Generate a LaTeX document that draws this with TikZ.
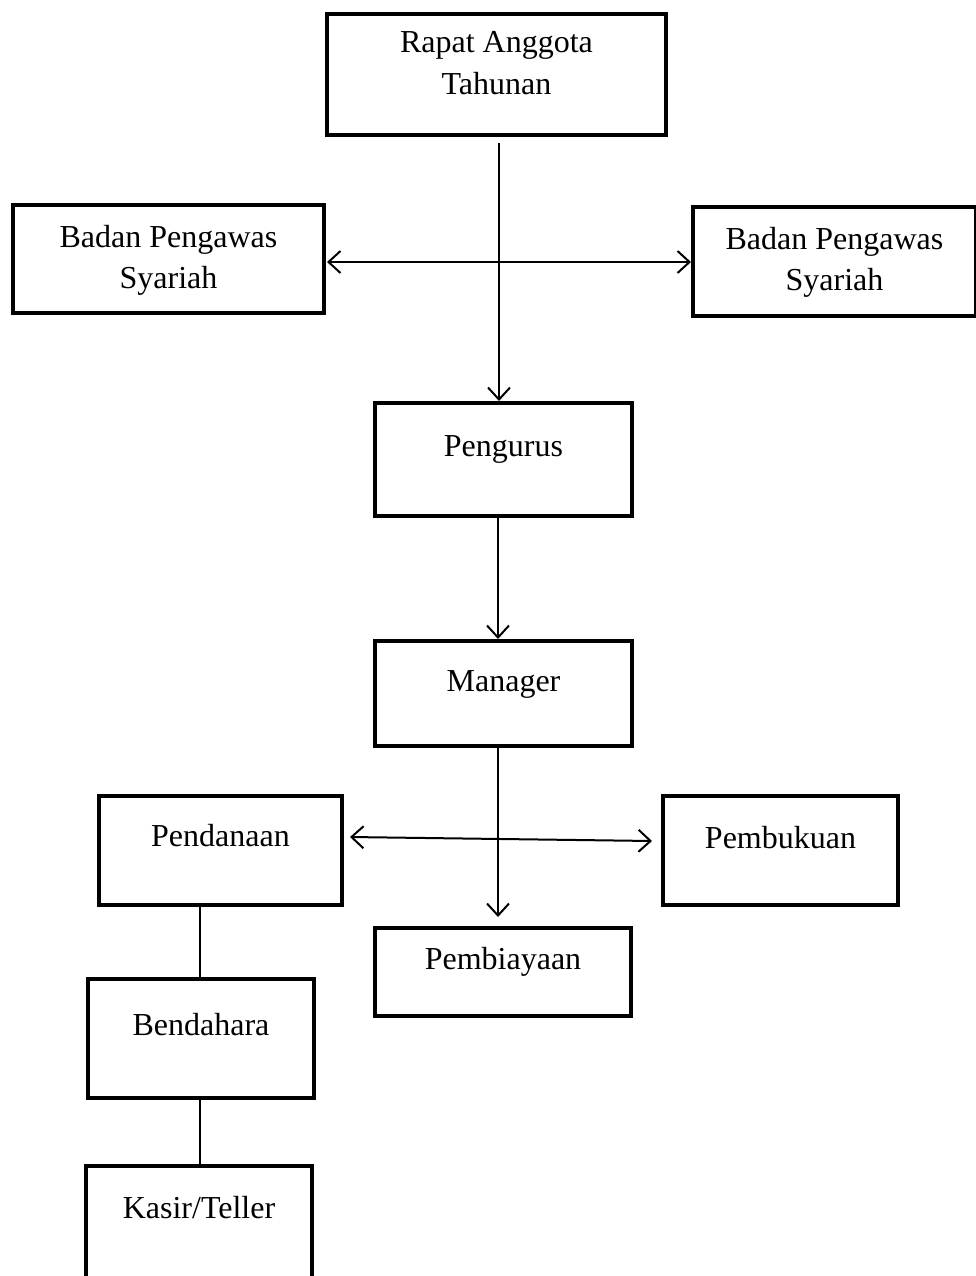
\documentclass[tikz,border=0pt]{standalone}
\usepackage{fontspec}
\setmainfont{Liberation Serif}
\usetikzlibrary{arrows.meta}
\begin{document}
\begin{tikzpicture}[x=1pt,y=-1pt,
  box/.style={draw, line width=4pt, inner sep=0pt, outer sep=0pt, font=\fontsize{32}{41.5}\selectfont},
  arr/.style={line width=2pt, -{Straight Barb[length=12pt,width=22pt]}},
  biarr/.style={line width=2pt, {Straight Barb[length=12pt,width=22pt]}-{Straight Barb[length=12pt,width=22pt]}},
  conn/.style={line width=2pt}]
\path[use as bounding box, clip] (0,0) rectangle (976,1276);

\node[box, minimum width=339pt, text height=39pt, text depth=82pt] (rat) at (496.5,74.5)
  {\begin{tabular}[t]{@{}c@{}}Rapat Anggota\\Tahunan\end{tabular}};
\node[box, minimum width=311pt, text height=42pt, text depth=66pt] (bpsl) at (168.5,259)
  {\begin{tabular}[t]{@{}c@{}}Badan Pengawas\\Syariah\end{tabular}};
\node[box, minimum width=283pt, text height=42pt, text depth=67pt] (bpsr) at (834.5,261.5)
  {\begin{tabular}[t]{@{}c@{}}Badan Pengawas\\Syariah\end{tabular}};
\node[box, minimum width=257pt, text height=53pt, text depth=60pt] (pengurus) at (503.5,459.5) {Pengurus};
\node[box, minimum width=257pt, text height=50pt, text depth=55pt] (manager) at (503.5,693.5) {Manager};
\node[box, minimum width=243pt, text height=50pt, text depth=59pt] (pendanaan) at (220.5,850.5) {Pendanaan};
\node[box, minimum width=235pt, text height=52pt, text depth=57pt] (pembukuan) at (780.5,850.5) {Pembukuan};
\node[box, minimum width=256pt, text height=41pt, text depth=47pt] (pembiayaan) at (503,972) {Pembiayaan};
\node[box, minimum width=226pt, text height=56pt, text depth=63pt] (bendahara) at (201,1038.5) {Bendahara};
\node[box, minimum width=226pt, text height=52pt, text depth=72pt] (kasir) at (199,1228) {Kasir/Teller};

\draw[arr] ([xshift=2.5pt,yshift=-8pt]rat.south) -- ([xshift=-4.5pt,yshift=2pt]pengurus.north);
\draw[biarr] ([xshift=3pt,yshift=-3pt]bpsl.east) -- ([xshift=-2pt,yshift=-0.5pt]bpsr.west);
\draw[arr] ([xshift=-5.5pt,yshift=-2pt]pengurus.south) -- ([xshift=-5.5pt,yshift=2pt]manager.north);
\draw[arr] ([xshift=-5.5pt,yshift=-2pt]manager.south) -- ([xshift=-5pt,yshift=11pt]pembiayaan.north);
\draw[biarr] ([xshift=8pt,yshift=13.5pt]pendanaan.east) -- ([xshift=-11pt,yshift=9.5pt]pembukuan.west);
\draw[conn] ([xshift=-20.5pt,yshift=-2pt]pendanaan.south) -- ([xshift=-1pt,yshift=2pt]bendahara.north);
\draw[conn] ([xshift=-1pt,yshift=-2pt]bendahara.south) -- ([xshift=1pt,yshift=2pt]kasir.north);
\end{tikzpicture}
\end{document}
